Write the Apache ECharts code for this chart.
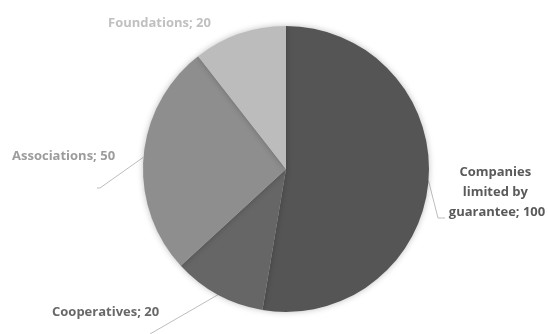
<!DOCTYPE html>
<html>
<head>
<meta charset="utf-8">
<script src="https://cdn.jsdelivr.net/npm/echarts@6/dist/echarts.min.js"></script>
<style>html,body{margin:0;padding:0;background:#fff;}#c{width:548px;height:334px;}</style>
</head>
<body>
<div id="c"></div>
<script>
const categories = ['Companies limited by guarantee', 'Cooperatives', 'Associations', 'Foundations'];
const values = [100, 20, 50, 20];
const sliceColors = ['#555555', '#666666', '#8e8e8e', '#bcbcbc'];
const labelColors = ['#5a5a5a', '#686868', '#9c9c9c', '#c0c0c0'];
const labelSpots = [
  {x: 497, y: 192, align: 'center'},
  {x: 52, y: 312, align: 'left'},
  {x: 12, y: 156, align: 'left'},
  {x: 108, y: 23, align: 'left'}
];
// leader line bends / ends (after the point on the pie edge)
const leaderTails = [
  [[438, 218], [445, 218]],
  [[150, 334]],
  [[100, 188], [97, 188]],
  null
];

const chart = echarts.init(document.getElementById('c'));
chart.setOption({
  animation: false,
  series: [{
    type: 'pie',
    center: [286, 169],
    radius: [0, 143],
    startAngle: 90,
    clockwise: true,
    data: categories.map((n, i) => ({
      name: n,
      value: values[i],
      itemStyle: {color: sliceColors[i]},
      label: Object.assign({color: labelColors[i]}, i === 0 ? {width: 112, overflow: 'break', align: 'center'} : {}),
      labelLine: {show: i !== 3}
    })),
    itemStyle: {shadowBlur: 6, shadowColor: 'rgba(0,0,0,0.25)', borderWidth: 0},
    label: {
      show: true,
      position: 'outside',
      formatter: '{b}; {c}',
      fontFamily: 'Open Sans',
      fontWeight: 'bold',
      fontSize: 13,
      lineHeight: 20
    },
    labelLine: {show: true, length: 10, length2: 10, lineStyle: {color: '#bdbdbd', width: 1}},
    labelLayout: function (p) {
      const s = labelSpots[p.dataIndex];
      const out = {x: s.x, y: s.y, align: s.align, verticalAlign: 'middle'};
      const tail = leaderTails[p.dataIndex];
      if (tail && p.labelLinePoints) {
        out.labelLinePoints = [p.labelLinePoints[0]].concat(tail);
      }
      return out;
    }
  }]
});
</script>
</body>
</html>
